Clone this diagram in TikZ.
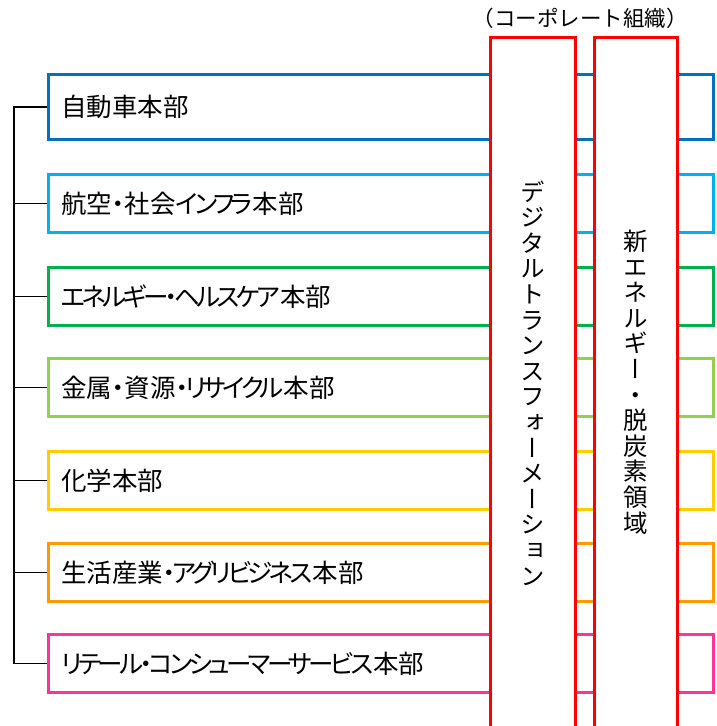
\documentclass[tikz,border=0pt]{standalone}
\usepackage{fontspec}
\setmainfont{Noto Sans CJK JP}[RawFeature=+palt]
\newfontfamily\kanafont{Noto Sans CJK JP}[RawFeature=+palt,LetterSpace=-14]
\newfontfamily\fullfont{Noto Sans CJK JP}
\newfontfamily\tatefont{Noto Sans CJK JP}[RawFeature=+vert]

\begin{document}
\begin{tikzpicture}
		[x=1pt,y=-1pt,
		%Styles
		division/.style={draw=#1,line width=3pt,fill=white,anchor=north west,
			minimum width=665pt,minimum height=58pt,text width=640pt,inner xsep=12.5pt,
			align=left,font=\fontsize{25.5}{28}\selectfont},
		bracket line/.style={line width=1.4pt},
		column line/.style={draw=red,line width=3pt},
		tate text/.style={align=center,font=\tatefont\fontsize{24.5}{25.6}\selectfont}
		]
		
		%Colors
		\definecolor{autocolor}{HTML}{0070C0}
		\definecolor{aerocolor}{HTML}{00B0F0}
		\definecolor{energycolor}{HTML}{00B050}
		\definecolor{metalcolor}{HTML}{92D050}
		\definecolor{chemcolor}{HTML}{FFCC00}
		\definecolor{lifecolor}{HTML}{FF9900}
		\definecolor{retailcolor}{HTML}{FF3399}
		
		\useasboundingbox (0,0) rectangle (717,726);
		
		%The graphic
		\node[division=autocolor,minimum height=65pt] (auto) at (47,73) {自動車本部};
		\node[division=aerocolor] (aero) at (47,173) {航空{\kanafont ・}社会{\kanafont インフラ}本部};
		\node[division=energycolor] (energy) at (47,266) {{\kanafont エネルギー・ヘルスケア}本部};
		\node[division=metalcolor] (metal) at (47,357) {金属{\kanafont ・}資源{\kanafont ・リサイクル}本部};
		\node[division=chemcolor] (chem) at (47,450) {化学本部};
		\node[division=lifecolor] (life) at (47,542) {生活産業{\kanafont ・アグリビジネス}本部};
		\node[division=retailcolor] (retail) at (47,633) {{\kanafont リテール・コンシューマーサービス}本部};
		
		\coordinate (spine) at (14,0);
		\draw[bracket line] (auto.west) -| (spine |- retail.west) -- (retail.west);
		\draw[bracket line] (aero.west) -- (spine |- aero.west);
		\draw[bracket line] (energy.west) -- (spine |- energy.west);
		\draw[bracket line] (metal.west) -- (spine |- metal.west);
		\draw[bracket line] (chem.west) -- (spine |- chem.west);
		\draw[bracket line] (life.west) -- (spine |- life.west);
		
		\fill[white] (490.5,37.5) rectangle (575.5,740);
		\draw[column line] (490.5,740) -- (490.5,37.5) -- (575.5,37.5) -- (575.5,740);
		\fill[white] (594.5,37.5) rectangle (677.5,740);
		\draw[column line] (594.5,740) -- (594.5,37.5) -- (677.5,37.5) -- (677.5,740);
		
		\node[tate text] (dx) at (533,383) {デ\\ジ\\タ\\ル\\ト\\ラ\\ン\\ス\\フ\\ォ\\ー\\メ\\ー\\シ\\ョ\\ン};
		\node[tate text] (green) at (636,382) {新\\エ\\ネ\\ル\\ギ\\ー\\・\\脱\\炭\\素\\領\\域};
		
		\node[font=\fullfont\fontsize{21.5}{24}\selectfont] (corp) at (580,18) {（コーポレート組織）};
	\end{tikzpicture}
\end{document}
